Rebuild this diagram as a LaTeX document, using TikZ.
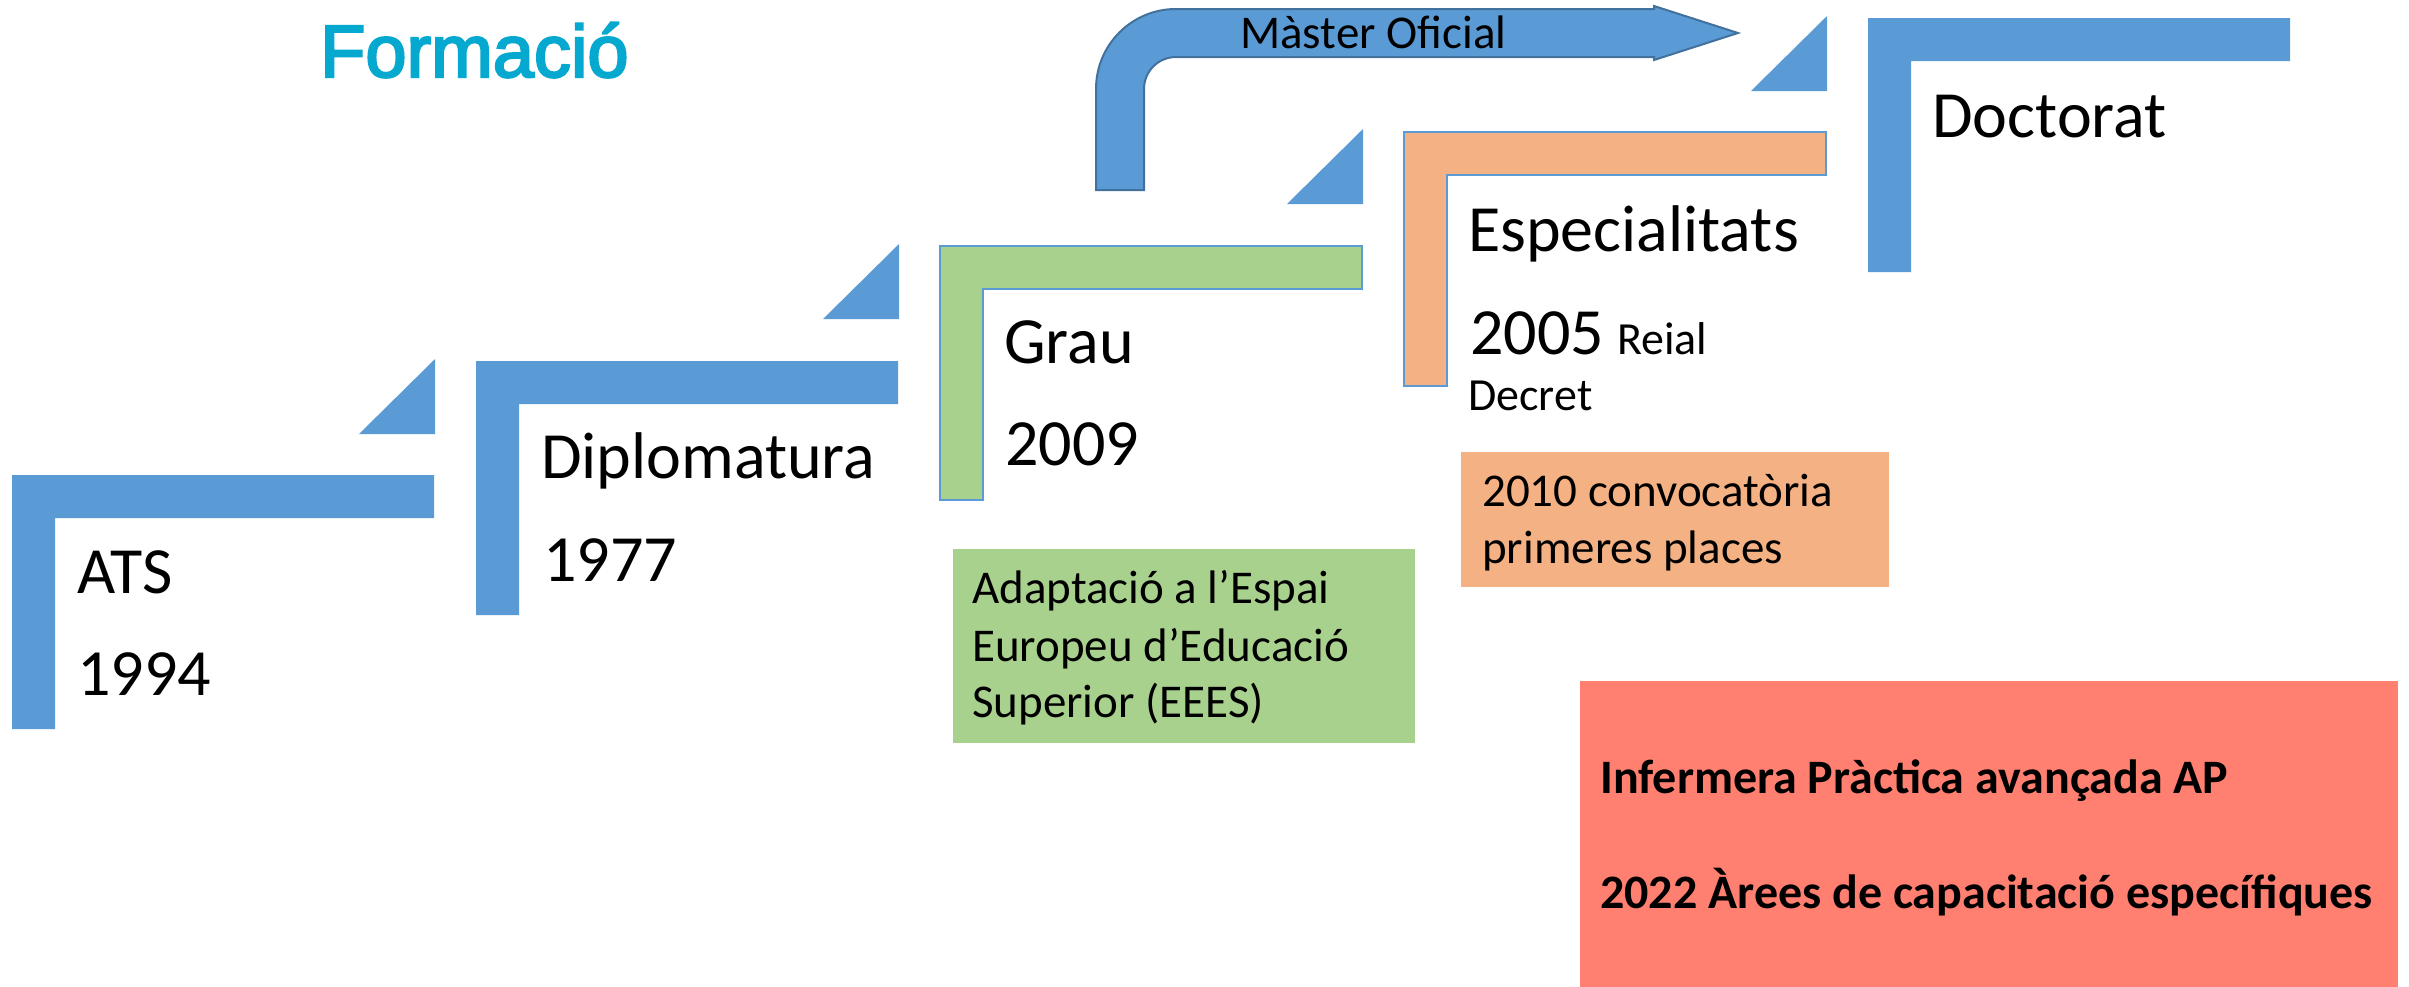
\documentclass[tikz,border=0pt]{standalone}
\usepackage{fontspec}
\setmainfont{Carlito}
\newfontfamily\titlefont[FakeBold=3]{Liberation Sans}
\definecolor{stepblue}{HTML}{5B9BD5}
\definecolor{arrowline}{HTML}{41719C}
\definecolor{stepgreen}{HTML}{A9D18E}
\definecolor{steporange}{HTML}{F4B183}
\definecolor{stepred}{HTML}{FF7F70}
\definecolor{titlecyan}{HTML}{05A8CF}
\tikzset{
  lstep/.pic={\path[pic actions] (0,0) -- (422,0) -- (422,43) -- (43,43) -- (43,254) -- (0,254) -- cycle;},
  tristep/.pic={\path[pic actions] (0,0) -- (76,0) -- (76,-75) -- cycle;},
  biglbl/.style={anchor=base west, inner sep=0, font=\fontsize{66}{79}\selectfont},
  smalllbl/.style={anchor=base west, inner sep=0, font=\fontsize{46}{55}\selectfont},
  boxlbl/.style={anchor=base west, inner sep=0, font=\fontsize{47}{57}\selectfont},
  redlbl/.style={anchor=base west, inner sep=0, font=\bfseries\fontsize{48}{57}\selectfont},
  infobox/.style={anchor=north west, inner sep=0, draw=none}
}
\begin{document}
\begin{tikzpicture}[x=1pt,y=-1pt]
\useasboundingbox (0,0) rectangle (2409,986);
\fill[white] (0,0) rectangle (2409,986);

% title
\node[anchor=base west, inner sep=0, text=titlecyan, font=\titlefont\fontsize{74}{80}\selectfont] (title) at (320,77) {Formació};

% steps
\pic[fill=stepblue] at (12,475) {lstep};
\pic[fill=stepblue] at (476,361) {lstep};
\pic[fill=stepgreen, draw=stepblue, line width=2.5pt] at (940,246) {lstep};
\pic[fill=steporange, draw=stepblue, line width=2.5pt] at (1404,132) {lstep};
\pic[fill=stepblue] at (1868,18) {lstep};

% triangles
\pic[fill=stepblue] at (359,434) {tristep};
\pic[fill=stepblue] at (823,319) {tristep};
\pic[fill=stepblue] at (1287,204) {tristep};
\pic[fill=stepblue] at (1751,91) {tristep};

% Master arrow
\filldraw[fill=stepblue, draw=arrowline, line width=2pt]
  (1096,190) -- (1096,89) .. controls (1096,44.8) and (1131.8,9) .. (1176,9)
  -- (1654,9) -- (1654,6) -- (1738,33) -- (1654,60) -- (1654,57)
  -- (1176,57) .. controls (1158.3,57) and (1144,71.3) .. (1144,89)
  -- (1144,190) -- cycle;
\node[anchor=base west, inner sep=0, font=\fontsize{47}{54}\selectfont] (master) at (1240,48) {Màster Oficial};

% labels
\node[biglbl] (ats) at (77,593) {ATS};
\node[biglbl] (atsyear) at (77,695) {1994};
\node[biglbl] (dip) at (541,478) {Diplomatura};
\node[biglbl] (dipyear) at (543,581) {1977};
\node[biglbl] (grau) at (1004,363) {Grau};
\node[biglbl] (grauyear) at (1005,465) {2009};
\node[biglbl] (esp) at (1468,251) {Especialitats};
\node[biglbl] (espyear) at (1470,354) {2005};
\node[smalllbl] (reial) at (1617,354) {Reial};
\node[smalllbl] (decret) at (1468,410) {Decret};
\node[biglbl] (doc) at (1932,137) {Doctorat};

% green box
\node[infobox, fill=stepgreen, minimum width=462pt, minimum height=194pt] (eeesbox) at (953,549) {};
\node[boxlbl] (eees1) at (972,603) {Adaptació a l’Espai};
\node[boxlbl] (eees2) at (972,661) {Europeu d’Educació};
\node[boxlbl] (eees3) at (972,717) {Superior (EEES)};

% orange box
\node[infobox, fill=steporange, minimum width=428pt, minimum height=135pt] (convbox) at (1461,452) {};
\node[boxlbl] (conv1) at (1482,506) {2010 convocatòria};
\node[boxlbl] (conv2) at (1482,563) {primeres places};

% red box
\node[infobox, fill=stepred, minimum width=818pt, minimum height=306pt] (apbox) at (1580,681) {};
\node[redlbl] (ap1) at (1600,793) {Infermera Pràctica avançada AP};
\node[redlbl] (ap2) at (1600,908) {2022 Àrees de capacitació específiques};
\end{tikzpicture}
\end{document}
